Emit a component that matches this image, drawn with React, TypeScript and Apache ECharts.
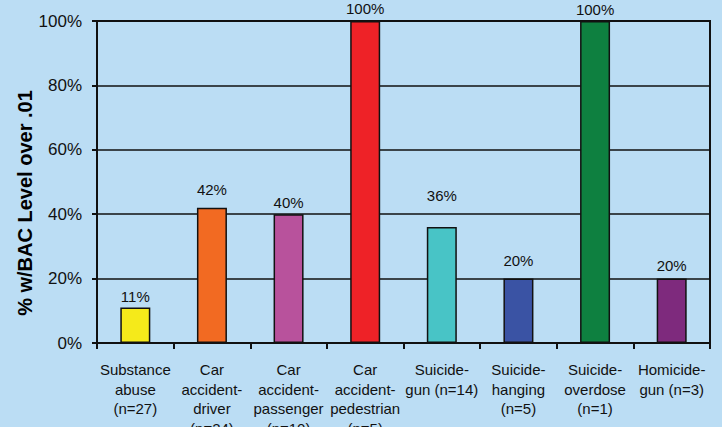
import React, { useEffect, useRef } from "react";
import * as echarts from "echarts";

const categories = [
  "Substance\nabuse\n(n=27)",
  "Car\naccident-\ndriver\n(n=24)",
  "Car\naccident-\npassenger\n(n=10)",
  "Car\naccident-\npedestrian\n(n=5)",
  "Suicide-\ngun (n=14)",
  "Suicide-\nhanging\n(n=5)",
  "Suicide-\noverdose\n(n=1)",
  "Homicide-\ngun (n=3)",
];
const values = [11, 42, 40, 100, 36, 20, 100, 20];
const barColors = ["#F5EA1A", "#F26A22", "#B8529C", "#EE2227", "#48C4C6", "#3A53A4", "#0E8040", "#7E2A7D"];
const labelLift = [0, 7, 0, 1, 20, 7, 0, 2];
const yTicks = [0, 20, 40, 60, 80, 100];
const yAxisTitle = "% w/BAC Level over .01";

const FONT = "'Liberation Sans', Arial, Helvetica, sans-serif";

export default function App() {
  const ref = useRef<HTMLDivElement>(null);
  useEffect(() => {
    if (!ref.current) return;
    const chart = echarts.init(ref.current, undefined, { renderer: "svg" });
    chart.setOption({
      animation: false,
      backgroundColor: "#BBDDF4",
      textStyle: { fontFamily: FONT, color: "#111" },
      grid: {
        left: 97,
        right: 12,
        top: 21,
        bottom: 84,
        containLabel: false,
        outerBoundsMode: "none",
        show: true,
        borderColor: "#111",
        borderWidth: 2,
      },
      xAxis: {
        type: "category",
        data: categories,
        axisLine: { lineStyle: { color: "#111", width: 2 } },
        axisTick: { show: true, length: 6, lineStyle: { color: "#111", width: 2 } },
        axisLabel: {
          interval: 0,
          margin: 17,
          fontSize: 15,
          lineHeight: 19.5,
          color: "#111",
          fontFamily: FONT,
        },
      },
      yAxis: {
        type: "value",
        min: yTicks[0],
        max: yTicks[yTicks.length - 1],
        interval: 20,
        axisLine: { show: true, lineStyle: { color: "#111", width: 2 } },
        axisTick: { show: true, length: 5, lineStyle: { color: "#111", width: 2 } },
        splitLine: { show: true, lineStyle: { color: "#111", width: 1.5 } },
        axisLabel: {
          margin: 15,
          fontSize: 17,
          color: "#111",
          fontFamily: FONT,
          formatter: (v: number) => v + "%",
        },
      },
      graphic: [
        {
          type: "text",
          x: 25,
          y: 203,
          rotation: Math.PI / 2,
          style: {
            text: yAxisTitle,
            font: "bold 20px " + FONT,
            fill: "#000",
            align: "center",
            verticalAlign: "middle",
          },
        },
      ],
      series: [
        {
          type: "bar",
          barWidth: 30,
          data: values.map((v, i) => ({
            value: v,
            itemStyle: { color: barColors[i], borderColor: "#111", borderWidth: 1.5 },
            label: { distance: 4 + labelLift[i] },
          })),
          label: {
            show: true,
            position: "top",
            distance: 4,
            fontSize: 15,
            color: "#111",
            fontFamily: FONT,
            formatter: (p: any) => p.value + "%",
          },
        },
      ],
    });
    return () => chart.dispose();
  }, []);
  return (
    <div
      ref={ref}
      style={{ position: "fixed", left: 0, top: 0, width: 722, height: 427 }}
    />
  );
}
